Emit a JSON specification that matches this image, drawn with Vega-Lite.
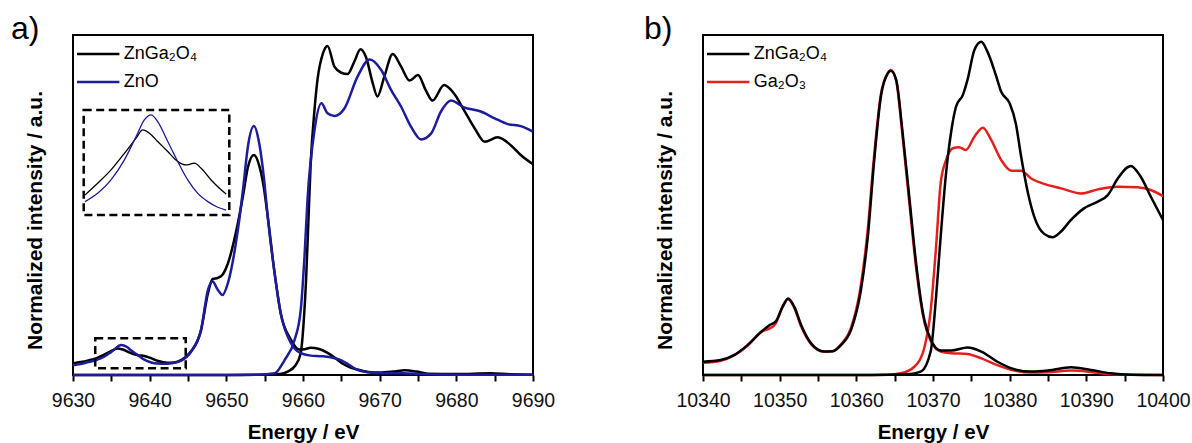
{
  "$schema": "https://vega.github.io/schema/vega-lite/v6.json",
  "background": "white",
  "padding": {"left": 10, "top": 12, "right": 5, "bottom": 4},
  "bounds": "flush",
  "spacing": 170,
  "config": {
    "view": {"stroke": "black", "strokeWidth": 2},
    "font": "Liberation Sans",
    "axis": {"labelFont": "Liberation Sans", "titleFont": "Liberation Sans", "grid": false},
    "legend": {
      "orient": "none", "legendX": 9.7, "legendY": 3.5, "padding": 0,
      "symbolType": "M-1.5,0H1.5", "symbolSize": 800, "symbolStrokeWidth": 2.5,
      "labelFont": "Liberation Sans", "labelFontSize": 18, "labelColor": "black",
      "labelOffset": 10, "rowPadding": 3
    },
    "title": {"font": "Liberation Sans"}
  },
  "datasets": {
    "a_main": [
      {"s":"ZnGa₂O₄","t":"e","E":9630,"I":3.4},{"s":"ZnGa₂O₄","t":"e","E":9631,"I":3.8},{"s":"ZnGa₂O₄","t":"e","E":9632,"I":4.3},{"s":"ZnGa₂O₄","t":"e","E":9633,"I":4.9},{"s":"ZnGa₂O₄","t":"e","E":9634,"I":5.9},{"s":"ZnGa₂O₄","t":"e","E":9635,"I":7.1},{"s":"ZnGa₂O₄","t":"e","E":9635.8,"I":7.8},{"s":"ZnGa₂O₄","t":"e","E":9636.5,"I":7.5},{"s":"ZnGa₂O₄","t":"e","E":9637.6,"I":6.4},{"s":"ZnGa₂O₄","t":"e","E":9638.5,"I":5.8},{"s":"ZnGa₂O₄","t":"e","E":9639.3,"I":5.6},{"s":"ZnGa₂O₄","t":"e","E":9640,"I":5.1},{"s":"ZnGa₂O₄","t":"e","E":9641,"I":4.2},{"s":"ZnGa₂O₄","t":"e","E":9642.3,"I":3.6},{"s":"ZnGa₂O₄","t":"e","E":9643.2,"I":3.7},{"s":"ZnGa₂O₄","t":"e","E":9644.1,"I":4.4},{"s":"ZnGa₂O₄","t":"e","E":9645.4,"I":6.9},{"s":"ZnGa₂O₄","t":"e","E":9646.7,"I":13.2},{"s":"ZnGa₂O₄","t":"e","E":9647.6,"I":24},{"s":"ZnGa₂O₄","t":"e","E":9648.2,"I":28.2},{"s":"ZnGa₂O₄","t":"e","E":9648.9,"I":28.6},{"s":"ZnGa₂O₄","t":"e","E":9649.5,"I":29.5},{"s":"ZnGa₂O₄","t":"e","E":9650.2,"I":32.8},{"s":"ZnGa₂O₄","t":"e","E":9651.5,"I":44.6},{"s":"ZnGa₂O₄","t":"e","E":9652.2,"I":53},{"s":"ZnGa₂O₄","t":"e","E":9652.8,"I":61},{"s":"ZnGa₂O₄","t":"e","E":9653.6,"I":64.7},{"s":"ZnGa₂O₄","t":"e","E":9654.3,"I":61.5},{"s":"ZnGa₂O₄","t":"e","E":9654.9,"I":55},{"s":"ZnGa₂O₄","t":"e","E":9655.4,"I":46.6},{"s":"ZnGa₂O₄","t":"e","E":9656.3,"I":29.9},{"s":"ZnGa₂O₄","t":"e","E":9657.1,"I":18.1},{"s":"ZnGa₂O₄","t":"e","E":9658.4,"I":10.5},{"s":"ZnGa₂O₄","t":"e","E":9659.5,"I":7.5},{"s":"ZnGa₂O₄","t":"e","E":9660.2,"I":7.6},{"s":"ZnGa₂O₄","t":"e","E":9661,"I":8},{"s":"ZnGa₂O₄","t":"e","E":9662,"I":7.7},{"s":"ZnGa₂O₄","t":"e","E":9663.2,"I":6.5},{"s":"ZnGa₂O₄","t":"e","E":9664.2,"I":5},{"s":"ZnGa₂O₄","t":"e","E":9665.2,"I":3.3},{"s":"ZnGa₂O₄","t":"e","E":9666.2,"I":2.2},{"s":"ZnGa₂O₄","t":"e","E":9667.1,"I":1.6},{"s":"ZnGa₂O₄","t":"e","E":9668.5,"I":0.9},{"s":"ZnGa₂O₄","t":"e","E":9670,"I":0.7},{"s":"ZnGa₂O₄","t":"e","E":9671.8,"I":1},{"s":"ZnGa₂O₄","t":"e","E":9673.3,"I":1.4},{"s":"ZnGa₂O₄","t":"e","E":9674.8,"I":1},{"s":"ZnGa₂O₄","t":"e","E":9676.3,"I":0.4},{"s":"ZnGa₂O₄","t":"e","E":9680,"I":0.3},{"s":"ZnGa₂O₄","t":"e","E":9684.5,"I":0.5},{"s":"ZnGa₂O₄","t":"e","E":9687,"I":0.2},{"s":"ZnGa₂O₄","t":"e","E":9690,"I":0.1},
      {"s":"ZnGa₂O₄","t":"a","E":9630,"I":0},{"s":"ZnGa₂O₄","t":"a","E":9650,"I":0},{"s":"ZnGa₂O₄","t":"a","E":9655,"I":0.1},{"s":"ZnGa₂O₄","t":"a","E":9657,"I":0.3},{"s":"ZnGa₂O₄","t":"a","E":9658,"I":1},{"s":"ZnGa₂O₄","t":"a","E":9659,"I":2.8},{"s":"ZnGa₂O₄","t":"a","E":9659.7,"I":6.4},{"s":"ZnGa₂O₄","t":"a","E":9660.1,"I":16},{"s":"ZnGa₂O₄","t":"a","E":9660.4,"I":28},{"s":"ZnGa₂O₄","t":"a","E":9660.7,"I":45},{"s":"ZnGa₂O₄","t":"a","E":9661,"I":62},{"s":"ZnGa₂O₄","t":"a","E":9661.5,"I":78},{"s":"ZnGa₂O₄","t":"a","E":9661.9,"I":87},{"s":"ZnGa₂O₄","t":"a","E":9662.6,"I":94.6},{"s":"ZnGa₂O₄","t":"a","E":9663.2,"I":96.8},{"s":"ZnGa₂O₄","t":"a","E":9664.1,"I":90.7},{"s":"ZnGa₂O₄","t":"a","E":9665,"I":88.9},{"s":"ZnGa₂O₄","t":"a","E":9665.8,"I":88.5},{"s":"ZnGa₂O₄","t":"a","E":9666.7,"I":92.2},{"s":"ZnGa₂O₄","t":"a","E":9667.5,"I":95.8},{"s":"ZnGa₂O₄","t":"a","E":9668.2,"I":93.6},{"s":"ZnGa₂O₄","t":"a","E":9669.1,"I":85.8},{"s":"ZnGa₂O₄","t":"a","E":9669.7,"I":81.9},{"s":"ZnGa₂O₄","t":"a","E":9670.6,"I":87.7},{"s":"ZnGa₂O₄","t":"a","E":9671.7,"I":94.4},{"s":"ZnGa₂O₄","t":"a","E":9672.8,"I":90.7},{"s":"ZnGa₂O₄","t":"a","E":9673.9,"I":86.6},{"s":"ZnGa₂O₄","t":"a","E":9675,"I":88.2},{"s":"ZnGa₂O₄","t":"a","E":9676,"I":83.8},{"s":"ZnGa₂O₄","t":"a","E":9676.9,"I":80.7},{"s":"ZnGa₂O₄","t":"a","E":9678.4,"I":85.3},{"s":"ZnGa₂O₄","t":"a","E":9679.7,"I":82.8},{"s":"ZnGa₂O₄","t":"a","E":9681,"I":77.9},{"s":"ZnGa₂O₄","t":"a","E":9682.4,"I":72.5},{"s":"ZnGa₂O₄","t":"a","E":9683.7,"I":68.6},{"s":"ZnGa₂O₄","t":"a","E":9685.4,"I":69.9},{"s":"ZnGa₂O₄","t":"a","E":9687.1,"I":67.6},{"s":"ZnGa₂O₄","t":"a","E":9688.4,"I":64.7},{"s":"ZnGa₂O₄","t":"a","E":9690,"I":62},
      {"s":"ZnO","t":"e","E":9630,"I":2.9},{"s":"ZnO","t":"e","E":9631,"I":3.2},{"s":"ZnO","t":"e","E":9632,"I":3.8},{"s":"ZnO","t":"e","E":9633,"I":4.4},{"s":"ZnO","t":"e","E":9634,"I":5.3},{"s":"ZnO","t":"e","E":9635,"I":6.8},{"s":"ZnO","t":"e","E":9636.3,"I":8.8},{"s":"ZnO","t":"e","E":9637,"I":8.3},{"s":"ZnO","t":"e","E":9637.6,"I":7.2},{"s":"ZnO","t":"e","E":9638.5,"I":5.8},{"s":"ZnO","t":"e","E":9639.3,"I":4.5},{"s":"ZnO","t":"e","E":9640.2,"I":3.7},{"s":"ZnO","t":"e","E":9641,"I":3.4},{"s":"ZnO","t":"e","E":9642.3,"I":3.3},{"s":"ZnO","t":"e","E":9643.2,"I":3.6},{"s":"ZnO","t":"e","E":9644.1,"I":4.2},{"s":"ZnO","t":"e","E":9645.4,"I":6.9},{"s":"ZnO","t":"e","E":9646.7,"I":13.2},{"s":"ZnO","t":"e","E":9647.6,"I":25},{"s":"ZnO","t":"e","E":9648.2,"I":27.5},{"s":"ZnO","t":"e","E":9648.9,"I":25},{"s":"ZnO","t":"e","E":9649.5,"I":23.5},{"s":"ZnO","t":"e","E":9650.2,"I":27},{"s":"ZnO","t":"e","E":9651.5,"I":42.6},{"s":"ZnO","t":"e","E":9652.2,"I":55},{"s":"ZnO","t":"e","E":9652.8,"I":67},{"s":"ZnO","t":"e","E":9653.6,"I":73.2},{"s":"ZnO","t":"e","E":9654.3,"I":68},{"s":"ZnO","t":"e","E":9654.9,"I":58},{"s":"ZnO","t":"e","E":9655.4,"I":46.6},{"s":"ZnO","t":"e","E":9656.3,"I":29.9},{"s":"ZnO","t":"e","E":9657.1,"I":18.1},{"s":"ZnO","t":"e","E":9658.4,"I":9.5},{"s":"ZnO","t":"e","E":9659.7,"I":6.4},{"s":"ZnO","t":"e","E":9661,"I":5.7},{"s":"ZnO","t":"e","E":9662.5,"I":5.5},{"s":"ZnO","t":"e","E":9664,"I":5},{"s":"ZnO","t":"e","E":9665,"I":4.3},{"s":"ZnO","t":"e","E":9666,"I":3},{"s":"ZnO","t":"e","E":9667.1,"I":1.5},{"s":"ZnO","t":"e","E":9668.5,"I":0.8},{"s":"ZnO","t":"e","E":9670,"I":0.5},{"s":"ZnO","t":"e","E":9673,"I":0.5},{"s":"ZnO","t":"e","E":9676,"I":0.2},{"s":"ZnO","t":"e","E":9680,"I":0.1},{"s":"ZnO","t":"e","E":9690,"I":0.05},
      {"s":"ZnO","t":"a","E":9630,"I":0},{"s":"ZnO","t":"a","E":9650,"I":0},{"s":"ZnO","t":"a","E":9654,"I":0.1},{"s":"ZnO","t":"a","E":9656.3,"I":0.5},{"s":"ZnO","t":"a","E":9657.6,"I":4.4},{"s":"ZnO","t":"a","E":9658.9,"I":10.3},{"s":"ZnO","t":"a","E":9659.7,"I":19},{"s":"ZnO","t":"a","E":9660.2,"I":35},{"s":"ZnO","t":"a","E":9660.6,"I":52},{"s":"ZnO","t":"a","E":9661.5,"I":72},{"s":"ZnO","t":"a","E":9662.4,"I":79.9},{"s":"ZnO","t":"a","E":9663.2,"I":77},{"s":"ZnO","t":"a","E":9664.1,"I":76.2},{"s":"ZnO","t":"a","E":9665.4,"I":78.4},{"s":"ZnO","t":"a","E":9667.1,"I":87.7},{"s":"ZnO","t":"a","E":9668.7,"I":92.8},{"s":"ZnO","t":"a","E":9670.2,"I":89.7},{"s":"ZnO","t":"a","E":9671.5,"I":83.8},{"s":"ZnO","t":"a","E":9672.8,"I":78.9},{"s":"ZnO","t":"a","E":9674.1,"I":73},{"s":"ZnO","t":"a","E":9675.4,"I":69.3},{"s":"ZnO","t":"a","E":9676.7,"I":71},{"s":"ZnO","t":"a","E":9678,"I":77.5},{"s":"ZnO","t":"a","E":9679.3,"I":80.7},{"s":"ZnO","t":"a","E":9681,"I":78.7},{"s":"ZnO","t":"a","E":9683.2,"I":77.5},{"s":"ZnO","t":"a","E":9685,"I":75.5},{"s":"ZnO","t":"a","E":9686.7,"I":73.8},{"s":"ZnO","t":"a","E":9688.4,"I":73.2},{"s":"ZnO","t":"a","E":9690,"I":71.6}
    ],
    "a_inset": [
      {"s":"ZnGa₂O₄","E":9632.09,"I":4.26},{"s":"ZnGa₂O₄","E":9632.93,"I":4.92},{"s":"ZnGa₂O₄","E":9633.82,"I":5.68},{"s":"ZnGa₂O₄","E":9634.71,"I":6.62},{"s":"ZnGa₂O₄","E":9635.49,"I":7.48},{"s":"ZnGa₂O₄","E":9635.93,"I":7.95},{"s":"ZnGa₂O₄","E":9636.38,"I":7.76},{"s":"ZnGa₂O₄","E":9636.93,"I":7.29},{"s":"ZnGa₂O₄","E":9637.6,"I":6.72},{"s":"ZnGa₂O₄","E":9638.27,"I":6.15},{"s":"ZnGa₂O₄","E":9638.82,"I":5.96},{"s":"ZnGa₂O₄","E":9639.38,"I":6.06},{"s":"ZnGa₂O₄","E":9639.82,"I":5.77},{"s":"ZnGa₂O₄","E":9640.49,"I":5.11},{"s":"ZnGa₂O₄","E":9641.04,"I":4.64},{"s":"ZnGa₂O₄","E":9641.49,"I":4.31},
      {"s":"ZnO","E":9632.09,"I":3.88},{"s":"ZnO","E":9632.93,"I":4.35},{"s":"ZnO","E":9633.82,"I":5.11},{"s":"ZnO","E":9634.71,"I":6.25},{"s":"ZnO","E":9635.49,"I":7.57},{"s":"ZnO","E":9636.04,"I":8.52},{"s":"ZnO","E":9636.49,"I":8.8},{"s":"ZnO","E":9636.93,"I":8.42},{"s":"ZnO","E":9637.6,"I":7.29},{"s":"ZnO","E":9638.27,"I":6.15},{"s":"ZnO","E":9638.93,"I":5.11},{"s":"ZnO","E":9639.6,"I":4.35},{"s":"ZnO","E":9640.27,"I":3.88},{"s":"ZnO","E":9640.93,"I":3.56},{"s":"ZnO","E":9641.49,"I":3.4}
    ],
    "b_main": [
      {"s":"Ga₂O₃","t":"e","E":10340,"I":3.6},{"s":"Ga₂O₃","t":"e","E":10342.3,"I":4.2},{"s":"Ga₂O₃","t":"e","E":10344.1,"I":5.8},{"s":"Ga₂O₃","t":"e","E":10345.8,"I":8.6},{"s":"Ga₂O₃","t":"e","E":10347.6,"I":12.7},{"s":"Ga₂O₃","t":"e","E":10348.7,"I":13.7},{"s":"Ga₂O₃","t":"e","E":10349.5,"I":15.2},{"s":"Ga₂O₃","t":"e","E":10350.4,"I":20.3},{"s":"Ga₂O₃","t":"e","E":10351.1,"I":22.3},{"s":"Ga₂O₃","t":"e","E":10351.9,"I":19.8},{"s":"Ga₂O₃","t":"e","E":10352.8,"I":14.3},{"s":"Ga₂O₃","t":"e","E":10354.1,"I":9.1},{"s":"Ga₂O₃","t":"e","E":10355.8,"I":6.9},{"s":"Ga₂O₃","t":"e","E":10356.9,"I":7},{"s":"Ga₂O₃","t":"e","E":10358,"I":9},{"s":"Ga₂O₃","t":"e","E":10359.3,"I":13.8},{"s":"Ga₂O₃","t":"e","E":10360.6,"I":26.5},{"s":"Ga₂O₃","t":"e","E":10361.5,"I":43},{"s":"Ga₂O₃","t":"e","E":10362.3,"I":64},{"s":"Ga₂O₃","t":"e","E":10363.2,"I":82.5},{"s":"Ga₂O₃","t":"e","E":10364.1,"I":88.8},{"s":"Ga₂O₃","t":"e","E":10364.5,"I":89.7},{"s":"Ga₂O₃","t":"e","E":10365.2,"I":86.5},{"s":"Ga₂O₃","t":"e","E":10366,"I":71},{"s":"Ga₂O₃","t":"e","E":10366.9,"I":51},{"s":"Ga₂O₃","t":"e","E":10367.8,"I":31.5},{"s":"Ga₂O₃","t":"e","E":10368.7,"I":17.5},{"s":"Ga₂O₃","t":"e","E":10369.7,"I":10},{"s":"Ga₂O₃","t":"e","E":10371,"I":6.9},{"s":"Ga₂O₃","t":"e","E":10372.4,"I":6.4},{"s":"Ga₂O₃","t":"e","E":10374.5,"I":6.2},{"s":"Ga₂O₃","t":"e","E":10376.3,"I":4.9},{"s":"Ga₂O₃","t":"e","E":10378.4,"I":2.9},{"s":"Ga₂O₃","t":"e","E":10380.6,"I":1.3},{"s":"Ga₂O₃","t":"e","E":10382.8,"I":0.7},{"s":"Ga₂O₃","t":"e","E":10385,"I":0.8},{"s":"Ga₂O₃","t":"e","E":10388,"I":1.3},{"s":"Ga₂O₃","t":"e","E":10390.6,"I":0.9},{"s":"Ga₂O₃","t":"e","E":10393.2,"I":0.2},{"s":"Ga₂O₃","t":"e","E":10400,"I":0},
      {"s":"Ga₂O₃","t":"a","E":10340,"I":0},{"s":"Ga₂O₃","t":"a","E":10360,"I":0},{"s":"Ga₂O₃","t":"a","E":10364,"I":0.1},{"s":"Ga₂O₃","t":"a","E":10365.8,"I":0.5},{"s":"Ga₂O₃","t":"a","E":10367.6,"I":2.5},{"s":"Ga₂O₃","t":"a","E":10368.9,"I":8.3},{"s":"Ga₂O₃","t":"a","E":10369.7,"I":19},{"s":"Ga₂O₃","t":"a","E":10370.4,"I":37.7},{"s":"Ga₂O₃","t":"a","E":10371,"I":56.4},{"s":"Ga₂O₃","t":"a","E":10371.7,"I":63.2},{"s":"Ga₂O₃","t":"a","E":10372.6,"I":66.7},{"s":"Ga₂O₃","t":"a","E":10373.4,"I":67},{"s":"Ga₂O₃","t":"a","E":10374.3,"I":66.2},{"s":"Ga₂O₃","t":"a","E":10375.4,"I":70.1},{"s":"Ga₂O₃","t":"a","E":10376.5,"I":72.7},{"s":"Ga₂O₃","t":"a","E":10377.6,"I":69.1},{"s":"Ga₂O₃","t":"a","E":10378.9,"I":63.2},{"s":"Ga₂O₃","t":"a","E":10380.2,"I":60.1},{"s":"Ga₂O₃","t":"a","E":10381.5,"I":60.1},{"s":"Ga₂O₃","t":"a","E":10382.8,"I":57.8},{"s":"Ga₂O₃","t":"a","E":10384.5,"I":56.2},{"s":"Ga₂O₃","t":"a","E":10386.7,"I":54.9},{"s":"Ga₂O₃","t":"a","E":10389.3,"I":53.4},{"s":"Ga₂O₃","t":"a","E":10391.5,"I":54.6},{"s":"Ga₂O₃","t":"a","E":10394.1,"I":55.4},{"s":"Ga₂O₃","t":"a","E":10396.7,"I":55.2},{"s":"Ga₂O₃","t":"a","E":10398.4,"I":54.4},{"s":"Ga₂O₃","t":"a","E":10400,"I":52.6},
      {"s":"ZnGa₂O₄","t":"e","E":10340,"I":3.9},{"s":"ZnGa₂O₄","t":"e","E":10342.3,"I":4.4},{"s":"ZnGa₂O₄","t":"e","E":10344.1,"I":5.9},{"s":"ZnGa₂O₄","t":"e","E":10345.8,"I":8.8},{"s":"ZnGa₂O₄","t":"e","E":10347.6,"I":12.7},{"s":"ZnGa₂O₄","t":"e","E":10348.7,"I":14.7},{"s":"ZnGa₂O₄","t":"e","E":10349.5,"I":15.8},{"s":"ZnGa₂O₄","t":"e","E":10350.4,"I":20.1},{"s":"ZnGa₂O₄","t":"e","E":10351.1,"I":22.5},{"s":"ZnGa₂O₄","t":"e","E":10351.9,"I":20.1},{"s":"ZnGa₂O₄","t":"e","E":10352.8,"I":14.7},{"s":"ZnGa₂O₄","t":"e","E":10354.1,"I":9.3},{"s":"ZnGa₂O₄","t":"e","E":10355.8,"I":6.9},{"s":"ZnGa₂O₄","t":"e","E":10356.9,"I":7},{"s":"ZnGa₂O₄","t":"e","E":10358,"I":8.8},{"s":"ZnGa₂O₄","t":"e","E":10359.3,"I":13.2},{"s":"ZnGa₂O₄","t":"e","E":10360.6,"I":25},{"s":"ZnGa₂O₄","t":"e","E":10361.5,"I":40.7},{"s":"ZnGa₂O₄","t":"e","E":10362.3,"I":62.3},{"s":"ZnGa₂O₄","t":"e","E":10363.2,"I":81.9},{"s":"ZnGa₂O₄","t":"e","E":10364.1,"I":88.7},{"s":"ZnGa₂O₄","t":"e","E":10364.5,"I":89.5},{"s":"ZnGa₂O₄","t":"e","E":10365.2,"I":86.8},{"s":"ZnGa₂O₄","t":"e","E":10366,"I":72},{"s":"ZnGa₂O₄","t":"e","E":10366.9,"I":52.5},{"s":"ZnGa₂O₄","t":"e","E":10367.8,"I":32.8},{"s":"ZnGa₂O₄","t":"e","E":10368.7,"I":18.1},{"s":"ZnGa₂O₄","t":"e","E":10369.7,"I":10.5},{"s":"ZnGa₂O₄","t":"e","E":10371,"I":7.2},{"s":"ZnGa₂O₄","t":"e","E":10372.4,"I":7.2},{"s":"ZnGa₂O₄","t":"e","E":10374.5,"I":8.1},{"s":"ZnGa₂O₄","t":"e","E":10376.3,"I":6.9},{"s":"ZnGa₂O₄","t":"e","E":10378.4,"I":3.9},{"s":"ZnGa₂O₄","t":"e","E":10380.6,"I":1.7},{"s":"ZnGa₂O₄","t":"e","E":10382.8,"I":1},{"s":"ZnGa₂O₄","t":"e","E":10385,"I":1.3},{"s":"ZnGa₂O₄","t":"e","E":10388,"I":2.3},{"s":"ZnGa₂O₄","t":"e","E":10390.6,"I":1.5},{"s":"ZnGa₂O₄","t":"e","E":10393.2,"I":0.5},{"s":"ZnGa₂O₄","t":"e","E":10395.8,"I":0.1},{"s":"ZnGa₂O₄","t":"e","E":10400,"I":0},
      {"s":"ZnGa₂O₄","t":"a","E":10340,"I":0},{"s":"ZnGa₂O₄","t":"a","E":10362,"I":0},{"s":"ZnGa₂O₄","t":"a","E":10366.7,"I":0.2},{"s":"ZnGa₂O₄","t":"a","E":10368.4,"I":1},{"s":"ZnGa₂O₄","t":"a","E":10369.7,"I":7},{"s":"ZnGa₂O₄","t":"a","E":10370.4,"I":23},{"s":"ZnGa₂O₄","t":"a","E":10371,"I":40.7},{"s":"ZnGa₂O₄","t":"a","E":10371.7,"I":59.3},{"s":"ZnGa₂O₄","t":"a","E":10372.4,"I":72},{"s":"ZnGa₂O₄","t":"a","E":10373,"I":78.9},{"s":"ZnGa₂O₄","t":"a","E":10373.9,"I":82.4},{"s":"ZnGa₂O₄","t":"a","E":10374.5,"I":86.8},{"s":"ZnGa₂O₄","t":"a","E":10375.4,"I":95.6},{"s":"ZnGa₂O₄","t":"a","E":10376.3,"I":98},{"s":"ZnGa₂O₄","t":"a","E":10377.1,"I":95.1},{"s":"ZnGa₂O₄","t":"a","E":10378.2,"I":88.2},{"s":"ZnGa₂O₄","t":"a","E":10378.9,"I":83.3},{"s":"ZnGa₂O₄","t":"a","E":10380,"I":79.9},{"s":"ZnGa₂O₄","t":"a","E":10380.8,"I":74},{"s":"ZnGa₂O₄","t":"a","E":10381.5,"I":64.2},{"s":"ZnGa₂O₄","t":"a","E":10382.4,"I":53.4},{"s":"ZnGa₂O₄","t":"a","E":10383.2,"I":46.6},{"s":"ZnGa₂O₄","t":"a","E":10384.5,"I":41.5},{"s":"ZnGa₂O₄","t":"a","E":10385.6,"I":40.5},{"s":"ZnGa₂O₄","t":"a","E":10386.7,"I":42.2},{"s":"ZnGa₂O₄","t":"a","E":10388,"I":45.6},{"s":"ZnGa₂O₄","t":"a","E":10389.7,"I":49},{"s":"ZnGa₂O₄","t":"a","E":10391.5,"I":51},{"s":"ZnGa₂O₄","t":"a","E":10392.8,"I":52.9},{"s":"ZnGa₂O₄","t":"a","E":10394.1,"I":57.8},{"s":"ZnGa₂O₄","t":"a","E":10395.8,"I":61.5},{"s":"ZnGa₂O₄","t":"a","E":10397.1,"I":58.3},{"s":"ZnGa₂O₄","t":"a","E":10398.4,"I":52.5},{"s":"ZnGa₂O₄","t":"a","E":10400,"I":45.6}
    ],
    "a_box": [{"E0": 9632.9, "E1": 9644.7, "I0": 2.0, "I1": 10.8}],
    "a_inset_box": [{"E0": 9632, "E1": 9641.7, "I0": 3.12, "I1": 9.08}]
  },
  "hconcat": [
    {
      "width": 460, "height": 340,
      "title": {"text": "a)", "anchor": "start", "frame": "group", "dx": -62, "dy": 36, "offset": 0, "fontSize": 32, "fontWeight": "normal", "baseline": "alphabetic", "color": "black"},
      "layer": [
        {
          "data": {"name": "a_main"},
          "encoding": {
            "x": {"field": "E", "type": "quantitative",
              "scale": {"domain": [9630, 9690], "nice": false, "zero": false},
              "axis": {"title": "Energy / eV", "values": [9630,9635,9640,9645,9650,9655,9660,9665,9670,9675,9680,9685,9690], "format": "d",
                "labelExpr": "datum.value % 10 == 0 ? datum.label : ''", "tickSize": 6, "tickWidth": 2, "tickColor": "black", "domain": false,
                "labelFontSize": 19.5, "labelColor": "#111", "labelPadding": 10, "labelOverlap": false, "labelFlush": false,
                "titleFontSize": 20.5, "titleFontWeight": "bold", "titleColor": "black", "titlePadding": 13}},
            "y": {"field": "I", "type": "quantitative",
              "scale": {"domain": [0, 100], "nice": false, "zero": false},
              "axis": {"title": "Normalized intensity / a.u.", "labels": false, "ticks": false, "domain": false,
                "titleFontSize": 21, "titleFontWeight": "bold", "titleColor": "black", "titlePadding": 28, "titleY": 185}},
            "color": {"field": "s", "type": "nominal",
              "scale": {"domain": ["ZnGa₂O₄", "ZnO"], "range": ["#000000", "#1c1c9c"]},
              "legend": {"title": null}},
            "detail": {"field": "t", "type": "nominal"}
          },
          "layer": [
            {"transform": [{"filter": {"field": "s", "equal": "ZnGa₂O₄"}}], "mark": {"type": "line", "strokeWidth": 2.5, "interpolate": "monotone"}},
            {"transform": [{"filter": {"field": "s", "equal": "ZnO"}}], "mark": {"type": "line", "strokeWidth": 2.5, "interpolate": "monotone"}},
            {"data": {"name": "a_box"}, "mark": {"type": "rect", "filled": false, "color": "black", "strokeWidth": 2.5, "strokeDash": [8, 4.5]},
              "encoding": {"x": {"field": "E0", "type": "quantitative"}, "x2": {"field": "E1"}, "y": {"field": "I0", "type": "quantitative"}, "y2": {"field": "I1"}, "color": {"value": "black"}, "detail": null}}
          ]
        },
        {
          "encoding": {
            "x": {"field": "E", "type": "quantitative", "scale": {"domain": [9632, 9641.7], "range": [10.7, 156.3], "nice": false, "zero": false}, "axis": null},
            "y": {"field": "I", "type": "quantitative", "scale": {"domain": [3.12, 9.08], "range": [180, 75], "nice": false, "zero": false}, "axis": null}
          },
          "layer": [
            {"data": {"name": "a_inset"}, "transform": [{"filter": {"field": "s", "equal": "ZnGa₂O₄"}}], "mark": {"type": "line", "strokeWidth": 1.3, "interpolate": "monotone"},
              "encoding": {"color": {"field": "s", "type": "nominal", "legend": null}}},
            {"data": {"name": "a_inset"}, "transform": [{"filter": {"field": "s", "equal": "ZnO"}}], "mark": {"type": "line", "strokeWidth": 1.3, "interpolate": "monotone"},
              "encoding": {"color": {"field": "s", "type": "nominal", "legend": null}}},
            {"data": {"name": "a_inset_box"}, "mark": {"type": "rect", "filled": false, "color": "black", "strokeWidth": 2.5, "strokeDash": [8, 4.5]},
              "encoding": {"x": {"field": "E0", "type": "quantitative"}, "x2": {"field": "E1"}, "y": {"field": "I0", "type": "quantitative"}, "y2": {"field": "I1"}}}
          ]
        }
      ],
      "resolve": {"scale": {"x": "independent", "y": "independent"}}
    },
    {
      "width": 460, "height": 340,
      "title": {"text": "b)", "anchor": "start", "frame": "group", "dx": -59, "dy": 36, "offset": 0, "fontSize": 32, "fontWeight": "normal", "baseline": "alphabetic", "color": "black"},
      "data": {"name": "b_main"},
      "encoding": {
        "x": {"field": "E", "type": "quantitative",
          "scale": {"domain": [10340, 10400], "nice": false, "zero": false},
          "axis": {"title": "Energy / eV", "values": [10340,10345,10350,10355,10360,10365,10370,10375,10380,10385,10390,10395,10400], "format": "d",
            "labelExpr": "datum.value % 10 == 0 ? datum.label : ''", "tickSize": 6, "tickWidth": 2, "tickColor": "black", "domain": false,
            "labelFontSize": 19.5, "labelColor": "#111", "labelPadding": 10, "labelOverlap": false, "labelFlush": false,
            "titleFontSize": 20.5, "titleFontWeight": "bold", "titleColor": "black", "titlePadding": 13}},
        "y": {"field": "I", "type": "quantitative",
          "scale": {"domain": [0, 100], "nice": false, "zero": false},
          "axis": {"title": "Normalized intensity / a.u.", "labels": false, "ticks": false, "domain": false,
            "titleFontSize": 21, "titleFontWeight": "bold", "titleColor": "black", "titlePadding": 28, "titleY": 185}},
        "color": {"field": "s", "type": "nominal",
          "scale": {"domain": ["ZnGa₂O₄", "Ga₂O₃"], "range": ["#000000", "#e3201e"]},
          "legend": {"title": null}},
        "detail": {"field": "t", "type": "nominal"}
      },
      "layer": [
        {"transform": [{"filter": {"field": "s", "equal": "Ga₂O₃"}}], "mark": {"type": "line", "strokeWidth": 2.5, "interpolate": "monotone"}},
        {"transform": [{"filter": {"field": "s", "equal": "ZnGa₂O₄"}}], "mark": {"type": "line", "strokeWidth": 2.5, "interpolate": "monotone"}}
      ]
    }
  ],
  "resolve": {"scale": {"color": "independent"}, "legend": {"color": "independent"}}
}
